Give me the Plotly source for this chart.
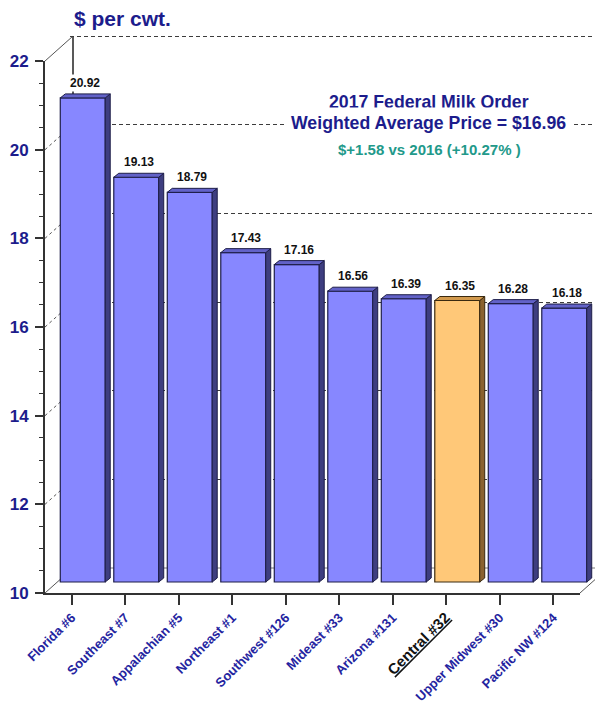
import plotly.graph_objects as go

# ---------------- data ----------------
categories = ["Florida #6", "Southeast #7", "Appalachian #5", "Northeast #1", "Southwest #126",
              "Mideast #33", "Arizona #131", "Central #32", "Upper Midwest #30", "Pacific NW #124"]
prices = [20.92, 19.13, 18.79, 17.43, 17.16, 16.56, 16.39, 16.35, 16.28, 16.18]
highlight = "Central #32"
y_ticks = [10, 12, 14, 16, 18, 20, 22]
y_min, y_max = 10, 22
y_unit = "$ per cwt."
title_line1 = "2017 Federal Milk Order"
title_line2 = "Weighted Average Price = $16.96"
subtitle = "$+1.58 vs 2016 (+10.27% )"

# ---------------- geometry / style ----------------
W, H = 603, 708
PAGE_OFF = 8           # default body margin of the html page
PX_CAT = 53.5          # pixels per category
PX_UNIT = 44.33        # pixels per $ unit
FRONT_X0, FRONT_Y0 = 45, 593   # screen pixel of front corner (category -0.5, value y_min)
BAR_OFF = (11, -11)
BACK_OFF = (28, -25)
DEPTH_PX = (5, 4)
BAR_WIDTH = 0.84
DX = DEPTH_PX[0] / PX_CAT
DY = DEPTH_PX[1] / PX_UNIT

NAVY = "#1c1c8c"
CAT_BLUE = "#2424a0"
FONT = "Liberation Sans, Arial, sans-serif"

BLUE = dict(front="#8787ff", side="#3e3e80", top="#6262c8", line="#1e1e48")
ORANGE = dict(front="#ffc878", side="#8a6230", top="#d29a4e", line="#3a2a10")


def fx(px):
    return (px - PAGE_OFF) / W


def fy(py):
    return 1 - (py - PAGE_OFF) / H


def plane(off, px_lo, px_hi, py_top, py_bot):
    ox = FRONT_X0 + off[0]
    oy = FRONT_Y0 + off[1]
    xr = [-0.5 + (px_lo - ox) / PX_CAT, -0.5 + (px_hi - ox) / PX_CAT]
    yr = [y_min + (oy - py_bot) / PX_UNIT, y_min + (oy - py_top) / PX_UNIT]
    return dict(xdom=[fx(px_lo), fx(px_hi)], ydom=[fy(py_bot), fy(py_top)], xr=xr, yr=yr)


def front_px(c, v):
    return FRONT_X0 + (c + 0.5) * PX_CAT, FRONT_Y0 - (v - y_min) * PX_UNIT


def back_px(c, v):
    x, y = front_px(c, v)
    return x + BACK_OFF[0], y + BACK_OFF[1]


back = plane(BACK_OFF, 70, 606, 28, 575)
bars = plane(BAR_OFF, 56, 606, 40, 585)
front = plane((0, 0), 45, 580, 61, 593)

idx = list(range(len(categories)))
n = len(categories)

fig = go.Figure()

# invisible anchors so the back and front subplots exist
fig.add_trace(go.Scatter(x=[0], y=[y_min], xaxis="x", yaxis="y", mode="markers",
                         marker=dict(opacity=0), hoverinfo="skip", showlegend=False))
fig.add_trace(go.Scatter(x=[0], y=[y_min], xaxis="x3", yaxis="y3", mode="markers",
                         marker=dict(opacity=0), hoverinfo="skip", showlegend=False))

# bar front faces
styles = [ORANGE if c == highlight else BLUE for c in categories]
fig.add_trace(go.Bar(
    x=idx, y=[v - y_min for v in prices], base=y_min, width=BAR_WIDTH,
    xaxis="x2", yaxis="y2",
    marker=dict(color=[s["front"] for s in styles],
                line=dict(color=[s["line"] for s in styles], width=1.2)),
    customdata=prices, hovertemplate="%{customdata:.2f}<extra></extra>",
    showlegend=False))

# 3D side and top faces
hw = BAR_WIDTH / 2
for i, v in enumerate(prices):
    s = styles[i]
    side_x = [i + hw, i + hw + DX, i + hw + DX, i + hw, i + hw]
    side_y = [y_min, y_min + DY, v + DY, v, y_min]
    top_x = [i - hw, i - hw + DX, i + hw + DX, i + hw, i - hw]
    top_y = [v, v + DY, v + DY, v, v]
    for xs, ys, col in ((side_x, side_y, s["side"]), (top_x, top_y, s["top"])):
        fig.add_trace(go.Scatter(x=xs, y=ys, xaxis="x2", yaxis="y2", mode="lines",
                                 fill="toself", fillcolor=col,
                                 line=dict(color=s["line"], width=1),
                                 hoverinfo="skip", showlegend=False))

# value labels
for i, v in enumerate(prices):
    fig.add_annotation(x=i + DX / 2, y=v, xref="x2", yref="y2", text=f"<b>{v:.2f}</b>",
                       showarrow=False, yanchor="bottom", yshift=6,
                       font=dict(family=FONT, size=12, color="#111111"),
                       bgcolor="white", borderpad=1)

# decorative 3D frame lines
shapes = []
for t in y_ticks:
    x0, y0 = front_px(-0.5, t)
    x1, y1 = back_px(-0.5, t)
    solid = t in (y_min, y_max)
    shapes.append(dict(type="line", xref="paper", yref="paper", layer="below",
                       x0=fx(x0), y0=fy(y0), x1=fx(x1), y1=fy(y1),
                       line=dict(color="#555555", width=1, dash="solid" if solid else "3px,3px")))
x0, y0 = front_px(n - 0.5, y_min)
x1, y1 = back_px(n - 0.5, y_min)
shapes.append(dict(type="line", xref="paper", yref="paper", layer="below",
                   x0=fx(x0), y0=fy(y0), x1=fx(x1), y1=fy(y1),
                   line=dict(color="#555555", width=1)))
shapes.append(dict(type="line", xref="x", yref="y", layer="below",
                   x0=-0.5, x1=n - 0.5, y0=y_min, y1=y_min,
                   line=dict(color="#7a7a7a", width=1)))
shapes.append(dict(type="line", xref="x", yref="y", layer="below",
                   x0=-0.5, x1=-0.5, y0=y_min, y1=y_max,
                   line=dict(color="#222222", width=1.5)))

ticktext = []
for c in categories:
    if c == highlight:
        ticktext.append(f"<span style='color:#111111;font-size:15px'><u>{c}</u></span>")
    else:
        ticktext.append(c)

fig.update_layout(
    width=W, height=H,
    margin=dict(l=0, r=0, t=0, b=0, pad=0, autoexpand=False),
    paper_bgcolor="white", plot_bgcolor="rgba(0,0,0,0)",
    showlegend=False, shapes=shapes,
    font=dict(family=FONT),
    xaxis=dict(domain=back["xdom"], range=back["xr"], anchor="y", visible=False, automargin=False),
    yaxis=dict(domain=back["ydom"], range=back["yr"], anchor="x", automargin=False,
               showticklabels=False, ticks="", showline=False, zeroline=False,
               tickmode="array", tickvals=y_ticks[1:], showgrid=True,
               gridcolor="#3c3c3c", griddash="4px,3px", gridwidth=1),
    xaxis2=dict(domain=bars["xdom"], range=bars["xr"], anchor="y2", visible=False, automargin=False),
    yaxis2=dict(domain=bars["ydom"], range=bars["yr"], anchor="x2", visible=False, automargin=False),
    xaxis3=dict(domain=front["xdom"], range=front["xr"], anchor="y3", automargin=False,
                tickmode="array", tickvals=idx, ticktext=ticktext, tickangle=-45,
                ticks="outside", ticklen=10, tickwidth=1.5, tickcolor="#333333",
                showline=True, linecolor="#333333", linewidth=2,
                showgrid=False, zeroline=False,
                tickfont=dict(family=FONT, size=13, color=CAT_BLUE, weight="bold")),
    yaxis3=dict(domain=front["ydom"], range=[y_min, y_max], anchor="x3", automargin=False,
                tickmode="linear", tick0=y_min, dtick=2,
                ticks="outside", ticklen=8, tickwidth=1.5, tickcolor="#333333",
                showline=True, linecolor="#333333", linewidth=2,
                showgrid=False, zeroline=False, ticklabelstandoff=3,
                minor=dict(dtick=0.5, ticks="outside", ticklen=4, tickwidth=1,
                           tickcolor="#333333", showgrid=False),
                tickfont=dict(family=FONT, size=17, color=NAVY, weight="bold")),
)

fig.add_annotation(xref="paper", yref="paper", x=fx(72), y=fy(18), xanchor="left", yanchor="middle",
                   text=f"<b>{y_unit}</b>", showarrow=False,
                   font=dict(family=FONT, size=21, color=NAVY))
fig.add_annotation(xref="paper", yref="paper", x=fx(429), y=fy(102), xanchor="center", yanchor="middle",
                   text=f"<b>{title_line1}</b>", showarrow=False, bgcolor="white", borderpad=2,
                   font=dict(family=FONT, size=17.7, color=NAVY))
fig.add_annotation(xref="paper", yref="paper", x=fx(428), y=fy(123), xanchor="center", yanchor="middle",
                   text=f"<b>{title_line2}</b>", showarrow=False, bgcolor="white", borderpad=5,
                   font=dict(family=FONT, size=17.7, color=NAVY))
fig.add_annotation(xref="paper", yref="paper", x=fx(429), y=fy(149), xanchor="center", yanchor="middle",
                   text=f"<b>{subtitle}</b>", showarrow=False,
                   font=dict(family=FONT, size=15, color="#22998a"))

fig.write_html("out.html")
